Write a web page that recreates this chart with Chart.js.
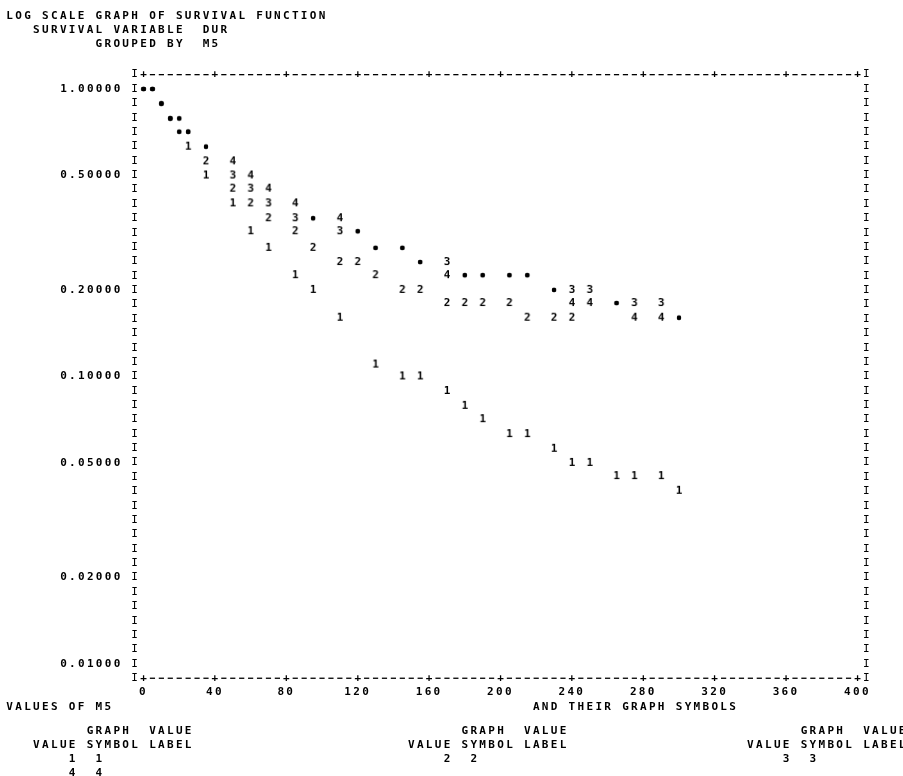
<!DOCTYPE html>
<html lang="en">
<head>
<meta charset="utf-8">
<title>Log scale graph of survival function</title>
<script src="https://cdn.jsdelivr.net/npm/chart.js@4.4.1/dist/chart.umd.min.js"></script>
<style>
  html, body { margin: 0; background: #fff; }
  #box { position: relative; width: 903px; height: 776px; }
</style>
</head>
<body>
<div id="box"><canvas id="survChart"></canvas></div>
<script>
// DUR (x) and cumulative proportion surviving (y), one pair of arrays per value of M5
const dur1 = [0, 5, 10, 15, 20, 25, 35, 50, 60, 70, 85, 95, 110, 130, 145, 155, 170, 180, 190, 205, 215, 230, 240, 250, 265, 275, 290, 300];
const surv1 = [1.00, 1.00, 0.89, 0.79, 0.71, 0.63, 0.50, 0.40, 0.32, 0.28, 0.225, 0.20, 0.16, 0.11, 0.10, 0.10, 0.089, 0.079, 0.071, 0.063, 0.063, 0.056, 0.050, 0.050, 0.045, 0.045, 0.045, 0.040];

const dur2 = [0, 5, 10, 15, 20, 25, 35, 50, 60, 70, 85, 95, 110, 120, 130, 145, 155, 170, 180, 190, 205, 215, 230, 240];
const surv2 = [1.00, 1.00, 0.89, 0.79, 0.71, 0.71, 0.56, 0.45, 0.40, 0.355, 0.32, 0.28, 0.25, 0.25, 0.225, 0.20, 0.20, 0.18, 0.18, 0.18, 0.18, 0.16, 0.16, 0.16];

const dur3 = [0, 5, 10, 15, 20, 25, 35, 50, 60, 70, 85, 95, 110, 120, 130, 145, 155, 170, 180, 190, 205, 215, 230, 240, 250, 265, 275, 290, 300];
const surv3 = [1.00, 1.00, 0.89, 0.79, 0.79, 0.71, 0.63, 0.50, 0.45, 0.40, 0.355, 0.355, 0.32, 0.32, 0.28, 0.28, 0.25, 0.25, 0.225, 0.225, 0.225, 0.225, 0.20, 0.20, 0.20, 0.18, 0.18, 0.18, 0.16];

const dur4 = [0, 5, 10, 15, 20, 25, 35, 50, 60, 70, 85, 95, 110, 120, 130, 145, 155, 170, 180, 190, 205, 215, 230, 240, 250, 265, 275, 290, 300];
const surv4 = [1.00, 1.00, 0.89, 0.79, 0.79, 0.71, 0.63, 0.56, 0.50, 0.45, 0.40, 0.355, 0.355, 0.32, 0.28, 0.28, 0.25, 0.225, 0.225, 0.225, 0.225, 0.225, 0.20, 0.18, 0.18, 0.18, 0.16, 0.16, 0.16];

const groupValues = ['1', '2', '3', '4'];
const xTicks = [0, 40, 80, 120, 160, 200, 240, 280, 320, 360, 400];
const yTicks = [1, 0.5, 0.2, 0.1, 0.05, 0.02, 0.01];

// one character cell of the line printer
const PITCH = 8.925;
const FONT = 'bold 11px "DejaVu Sans Mono", monospace';
const RAIL_FONT = '11px "DejaVu Sans Mono", monospace';

const series = [[dur1, surv1], [dur2, surv2], [dur3, surv3], [dur4, surv4]];

function glyph(ch) {
    const c = document.createElement('canvas');
    c.width = 12;
    c.height = 16;
    const g = c.getContext('2d');
    g.fillStyle = '#000';
    if (ch === '*') {
        g.beginPath();
        g.arc(6, 8, 2.2, 0, Math.PI * 2);
        g.fill();
    } else {
        g.font = FONT;
        g.textAlign = 'center';
        g.textBaseline = 'middle';
        g.fillText(ch, 6, 8.5);
    }
    return c;
}

const digitImgs = groupValues.map(glyph);
const dotImg = glyph('*');

// a point hit by more than one group prints as a dot
function isShared(gi, i) {
    const x = series[gi][0][i];
    const y = series[gi][1][i];
    return series.some((s, gj) => gj !== gi && s[0].some((v, j) => v === x && s[1][j] === y));
}

function printLine(ctx, text, x, y) {
    for (let i = 0; i < text.length; i++) {
        if (text[i] !== ' ') ctx.fillText(text[i], x + i * PITCH, y);
    }
}

const printerFrame = {
    id: 'printerFrame',
    beforeLayout(chart) { chart.ctx.letterSpacing = '2.3px'; },
    beforeDraw(chart) { chart.ctx.letterSpacing = '2.3px'; },
    afterDraw(chart) {
        const { ctx, chartArea, scales: { x, y } } = chart;
        ctx.save();
        ctx.letterSpacing = '0px';
        ctx.fillStyle = '#000';
        ctx.textAlign = 'center';
        ctx.textBaseline = 'middle';

        // side rails, one "I" per printed row (20 rows per decade)
        ctx.font = RAIL_FONT;
        for (let r = -1; r <= 41; r++) {
            const py = y.getPixelForValue(Math.pow(10, -r / 20));
            ctx.fillText('I', chartArea.left, py);
            ctx.fillText('I', chartArea.right, py);
        }
        // top and bottom rules: "+" at each tick, "-" in the other cells
        ctx.font = FONT;
        for (let v = 0; v <= 400; v += 5) {
            const px = x.getPixelForValue(v);
            [chartArea.top, chartArea.bottom].forEach(py => {
                if (xTicks.includes(v)) ctx.fillText('+', px, py);
                else ctx.fillRect(px - 2.6, py - 0.6, 5.2, 1.3);
            });
        }

        const col = k => chartArea.left + (k + 1) * PITCH;
        printLine(ctx, 'LOG SCALE GRAPH OF SURVIVAL FUNCTION', col(-15), 16);
        printLine(ctx, 'SURVIVAL VARIABLE  DUR', col(-12), 30);
        printLine(ctx, 'GROUPED BY  M5', col(-5), 44);

        printLine(ctx, 'VALUES OF M5', col(-15), 707);
        printLine(ctx, 'AND THEIR GRAPH SYMBOLS', col(44), 707);

        const blocks = [[-12, [['1', '1'], ['4', '4']]], [30, [['2', '2']]], [68, [['3', '3']]]];
        blocks.forEach(([c, rows]) => {
            printLine(ctx, 'GRAPH', col(c + 6), 731);
            printLine(ctx, 'VALUE', col(c + 13), 731);
            printLine(ctx, 'VALUE SYMBOL LABEL', col(c), 745);
            rows.forEach((pair, i) => {
                printLine(ctx, pair[0], col(c + 4), 759 + i * 14);
                printLine(ctx, pair[1], col(c + 7), 759 + i * 14);
            });
        });
        ctx.restore();
    }
};

const tickFont = { family: '"DejaVu Sans Mono", monospace', size: 11, weight: 'bold' };

new Chart(document.getElementById('survChart'), {
    type: 'scatter',
    data: {
        datasets: series.map(([xs, ys], gi) => ({
            label: groupValues[gi],
            data: xs.map((v, i) => ({ x: v, y: ys[i] })),
            pointStyle: ctx => (ctx.dataIndex !== undefined && isShared(gi, ctx.dataIndex)) ? dotImg : digitImgs[gi],
            pointRadius: 4,
            showLine: false
        }))
    },
    options: {
        responsive: true,
        maintainAspectRatio: false,
        animation: false,
        layout: { padding: { left: 0, top: 74.6, right: 36.6, bottom: 67.8 } },
        plugins: {
            legend: { display: false },
            tooltip: { enabled: false }
        },
        scales: {
            x: {
                type: 'linear',
                min: -5,
                max: 405,
                bounds: 'data',
                grid: { display: false, drawTicks: false },
                border: { display: false },
                afterBuildTicks: s => { s.ticks = xTicks.map(v => ({ value: v })); },
                afterFit: s => { s.height = 30; },
                ticks: { autoSkip: false, maxRotation: 0, padding: 7, color: '#000', font: tickFont, callback: v => String(v) }
            },
            y: {
                type: 'logarithmic',
                min: Math.pow(10, -2.05),
                max: Math.pow(10, 0.05),
                bounds: 'data',
                grid: { display: false, drawTicks: false },
                border: { display: false },
                afterBuildTicks: s => { s.ticks = yTicks.map(v => ({ value: v })); },
                afterFit: s => { s.width = 134.6; },
                ticks: { autoSkip: false, padding: 12, color: '#000', font: tickFont, callback: v => Number(v).toFixed(5) }
            }
        }
    },
    plugins: [printerFrame]
});
</script>
</body>
</html>
